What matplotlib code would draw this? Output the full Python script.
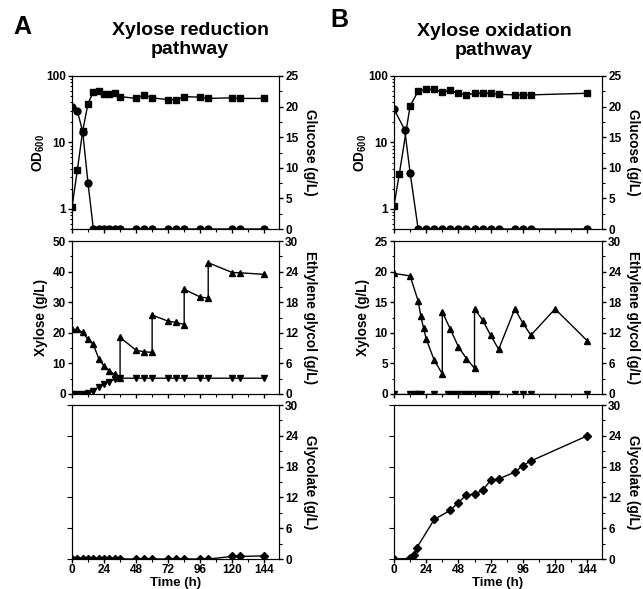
import matplotlib
matplotlib.use("Agg")
import matplotlib.pyplot as plt
from matplotlib.ticker import MultipleLocator, FixedLocator, NullFormatter, LogLocator, FixedFormatter

plt.rcParams['font.family'] = ['Liberation Sans', 'DejaVu Sans']
plt.rcParams['font.weight'] = 'bold'
plt.rcParams['axes.labelweight'] = 'bold'
plt.rcParams['mathtext.fontset'] = 'custom'
plt.rcParams['mathtext.rm'] = 'Liberation Sans:bold'
plt.rcParams['mathtext.bf'] = 'Liberation Sans:bold'
plt.rcParams['mathtext.default'] = 'bf'

# ---------------- Data: A (xylose reduction pathway) ----------------
a_od_t = [0, 4, 8, 12, 16, 20, 24, 28, 32, 36, 48, 54, 60, 72, 78, 84, 96, 102, 120, 126, 144]
a_od = [1.06, 3.85, 15, 38.5, 58, 60, 54, 54, 55, 49, 46, 52, 47, 44, 44, 49, 48, 46, 47, 46, 46]
a_glc_t = [0, 4, 8, 12, 16, 20, 24, 28, 32, 36, 48, 54, 60, 72, 78, 84, 96, 102, 120, 126, 144]
a_glc = [20.0, 19.3, 15.9, 7.5, 0, 0, 0, 0, 0, 0, 0, 0, 0, 0, 0, 0, 0, 0, 0, 0, 0]
a_xyl_t = [0, 4, 8, 12, 16, 20, 24, 28, 32, 36, 36, 48, 54, 60, 60, 72, 78, 84, 84, 96, 102, 102, 120, 126, 144]
a_xyl = [21.1, 21.1, 20.1, 17.9, 16.2, 11.6, 9.1, 7.5, 6.4, 5.1, 18.5, 14.3, 13.8, 13.6, 25.8,
         23.8, 23.4, 22.7, 34.2, 31.7, 31.3, 42.9, 39.7, 39.6, 39.1]
a_eg_t = [0, 4, 8, 12, 16, 20, 24, 28, 32, 36, 48, 54, 60, 72, 78, 84, 96, 102, 120, 126, 144]
a_eg = [0, 0, 0, 0.1, 0.65, 1.4, 2.0, 2.4, 2.9, 3.1, 3.1, 3.1, 3.1, 3.1, 3.1, 3.1, 3.1, 3.1, 3.1, 3.1, 3.1]
a_gly_t = [0, 4, 8, 12, 16, 20, 24, 28, 32, 36, 48, 54, 60, 72, 78, 84, 96, 102, 120, 126, 144]
a_gly = [0, 0, 0, 0, 0, 0, 0, 0, 0, 0, 0, 0, 0, 0, 0, 0, 0, 0, 0.5, 0.5, 0.6]

# ---------------- Data: B (xylose oxidation pathway) ----------------
b_od_t = [0, 4, 12, 18, 24, 30, 36, 42, 48, 54, 60, 66, 72, 78, 90, 96, 102, 144]
b_od = [1.12, 3.4, 35.5, 59, 63, 63, 57, 61, 55, 52, 55, 55, 55, 53, 52, 52, 52, 55]
b_glc_t = [0, 8, 12, 18, 24, 30, 36, 42, 48, 54, 60, 66, 72, 78, 90, 96, 102, 144]
b_glc = [19.6, 16.2, 9.2, 0, 0, 0, 0, 0, 0, 0, 0, 0, 0, 0, 0, 0, 0, 0]
b_xyl_t = [0, 12, 18, 20, 22, 24, 30, 36, 36, 42, 48, 54, 60, 60, 66, 72, 78, 90, 96, 102, 120, 144]
b_xyl = [19.7, 19.3, 15.2, 12.7, 10.8, 9.0, 5.5, 3.3, 13.4, 10.6, 7.7, 5.8, 4.2, 13.9,
         12.1, 9.6, 7.3, 13.9, 11.6, 9.6, 13.9, 8.7]
b_eg_t = [0, 12, 16, 18, 20, 30, 40, 44, 48, 52, 56, 60, 64, 68, 72, 76, 90, 96, 102, 144]
b_eg = [0] * 20
b_gly_t = [0, 12, 15, 17, 30, 42, 48, 54, 60, 66, 72, 78, 90, 96, 102, 144]
b_gly = [0, 0.1, 0.8, 2.2, 7.7, 9.5, 11.0, 12.5, 12.6, 13.4, 15.3, 15.6, 16.9, 18.2, 19.1, 24.0]

x_ticks = [0, 24, 48, 72, 96, 120, 144]

fig = plt.figure(figsize=(6.43, 5.89), dpi=100)
W, H = 643.0, 589.0

def rect(x0, x1, y0, y1):
    return [x0 / W, 1 - y1 / H, (x1 - x0) / W, (y1 - y0) / H]

cols = [(72, 279), (394, 602)]
rows = [(76, 229), (241, 394), (405, 559)]

TICK_FS = 8.5
LAB_FS = 9.8
MS = 5
LW = 1.0
MAJ_LEN, MIN_LEN, PAD = 3.0, 1.8, 1.5

def style_x(ax, labels):
    ax.set_xlim(0, 155)
    ax.xaxis.set_major_locator(FixedLocator(x_ticks))
    ax.xaxis.set_minor_locator(MultipleLocator(12))
    ax.tick_params(axis='x', which='both', direction='out', top=False, bottom=True, pad=0.8)
    ax.tick_params(axis='x', which='major', length=MAJ_LEN, width=1)
    ax.tick_params(axis='x', which='minor', length=MIN_LEN, width=0.8)
    if labels:
        ax.set_xticklabels([str(t) for t in x_ticks], fontsize=TICK_FS, fontweight='bold')
        ax.set_xlabel('Time (h)', fontsize=9.5, fontweight='bold', labelpad=0.3)
    else:
        ax.tick_params(axis='x', labelbottom=False)

def style_yaxis(ax):
    ax.tick_params(axis='y', which='both', direction='out', labelsize=TICK_FS, pad=PAD)
    ax.tick_params(axis='y', which='major', length=MAJ_LEN, width=1)
    ax.tick_params(axis='y', which='minor', length=MIN_LEN, width=0.8)
    for lab in ax.get_yticklabels():
        lab.set_fontweight('bold')

def right_label(ax, text):
    ax.set_ylabel(text, fontsize=LAB_FS, fontweight='bold', rotation=270, labelpad=3, va='bottom')

panels = [
    dict(col=cols[0], od=(a_od_t, a_od), glc=(a_glc_t, a_glc), xyl=(a_xyl_t, a_xyl), xylmax=50,
         xylstep=10, eg=(a_eg_t, a_eg), gly=(a_gly_t, a_gly)),
    dict(col=cols[1], od=(b_od_t, b_od), glc=(b_glc_t, b_glc), xyl=(b_xyl_t, b_xyl), xylmax=25,
         xylstep=5, eg=(b_eg_t, b_eg), gly=(b_gly_t, b_gly)),
]

for p in panels:
    x0, x1 = p['col']
    # ---- top panel: OD (log) and glucose
    ax = fig.add_axes(rect(x0, x1, *rows[0]))
    ax.set_yscale('log')
    ax.set_ylim(0.5, 100)
    ax.plot(p['od'][0], p['od'][1], color='black', marker='s', ms=MS, lw=LW)
    ax.yaxis.set_major_locator(FixedLocator([1, 10, 100]))
    ax.yaxis.set_major_formatter(FixedFormatter(['1', '10', '100']))
    ax.yaxis.set_minor_locator(LogLocator(base=10, subs=range(2, 10)))
    ax.yaxis.set_minor_formatter(NullFormatter())
    style_x(ax, False)
    style_yaxis(ax)
    ax.set_ylabel(r'OD$_{600}$', fontsize=LAB_FS, fontweight='bold', labelpad=-1)
    ax2 = ax.twinx()
    ax2.set_ylim(0, 25)
    ax2.plot(p['glc'][0], p['glc'][1], color='black', marker='o', ms=MS, lw=LW)
    ax2.yaxis.set_major_locator(MultipleLocator(5))
    ax2.yaxis.set_minor_locator(MultipleLocator(2.5))
    style_yaxis(ax2)
    right_label(ax2, 'Glucose (g/L)')
    ax2.set_xlim(0, 155)

    # ---- middle panel: xylose and ethylene glycol
    ax = fig.add_axes(rect(x0, x1, *rows[1]))
    ax.set_ylim(0, p['xylmax'])
    ax.plot(p['xyl'][0], p['xyl'][1], color='black', marker='^', ms=MS, lw=LW)
    ax.yaxis.set_major_locator(MultipleLocator(p['xylstep']))
    ax.yaxis.set_minor_locator(MultipleLocator(p['xylstep'] / 2))
    style_x(ax, False)
    style_yaxis(ax)
    ax.set_ylabel('Xylose (g/L)', fontsize=LAB_FS, fontweight='bold', labelpad=3)
    ax2 = ax.twinx()
    ax2.set_ylim(0, 30)
    ax2.plot(p['eg'][0], p['eg'][1], color='black', marker='v', ms=MS, lw=LW)
    ax2.yaxis.set_major_locator(MultipleLocator(6))
    ax2.yaxis.set_minor_locator(MultipleLocator(3))
    style_yaxis(ax2)
    right_label(ax2, 'Ethylene glycol (g/L)')
    ax2.set_xlim(0, 155)

    # ---- bottom panel: glycolate
    ax = fig.add_axes(rect(x0, x1, *rows[2]))
    ax.tick_params(axis='y', which='both', left=False, labelleft=False)
    style_x(ax, True)
    ax2 = ax.twinx()
    ax2.set_ylim(0, 30)
    ax2.plot(p['gly'][0], p['gly'][1], color='black', marker='D', ms=MS - 0.5, lw=LW)
    ax2.yaxis.set_major_locator(MultipleLocator(6))
    ax2.yaxis.set_minor_locator(MultipleLocator(3))
    style_yaxis(ax2)
    right_label(ax2, 'Glycolate (g/L)')
    ax2.set_xlim(0, 155)

# ---- titles and panel letters
fig.text(190 / W, 1 - 40 / H, 'Xylose reduction\npathway', ha='center', va='center',
         fontsize=14, fontweight='bold', linespacing=1.15)
fig.text(494 / W, 1 - 41 / H, 'Xylose oxidation\npathway', ha='center', va='center',
         fontsize=14, fontweight='bold', linespacing=1.15)
fig.text(22 / W, 1 - 27 / H, 'A', ha='center', va='center', fontsize=18, fontweight='bold')
fig.text(339 / W, 1 - 20 / H, 'B', ha='center', va='center', fontsize=18, fontweight='bold')

fig.savefig('out.png', dpi=100)
